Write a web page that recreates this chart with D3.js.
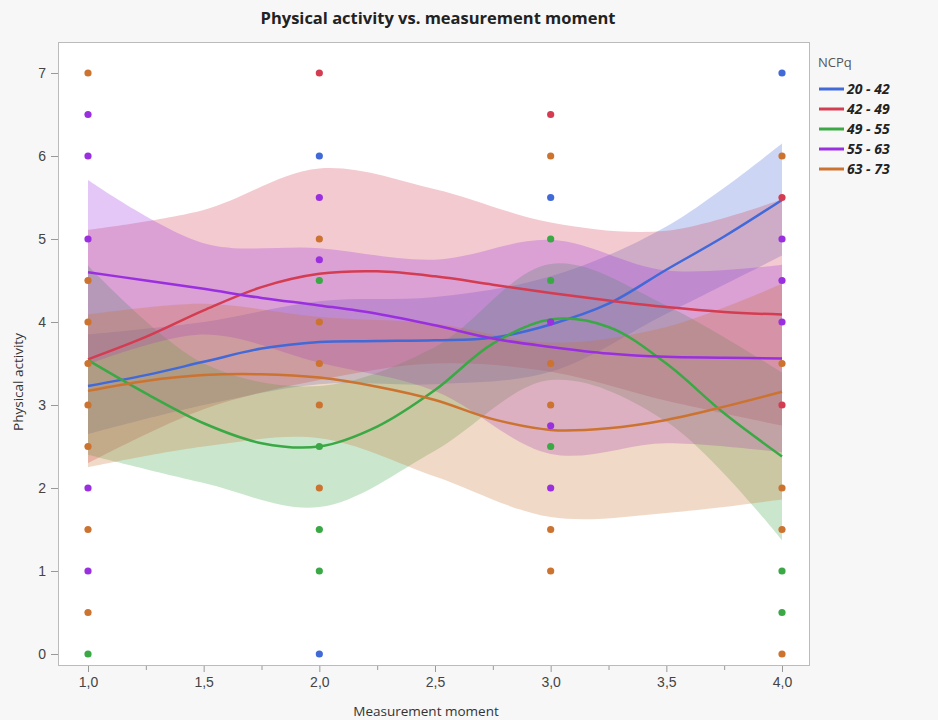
<!DOCTYPE html>
<html>
<head>
<meta charset="utf-8">
<script src="https://cdn.jsdelivr.net/npm/d3@7"></script>
<style>
  html, body { margin: 0; padding: 0; background: #f7f7f7; }
  svg { display: block; font-family: 'Open Sans', 'Noto Sans', sans-serif; }
</style>
</head>
<body>
<div id="chart"></div>
<script>
// Physical activity vs. measurement moment, smoothers with confidence bands per NCPq group
const GROUPS = ['20 - 42', '42 - 49', '49 - 55', '55 - 63', '63 - 73'];
const COLORS = ['#4169d8', '#d43c52', '#3aa845', '#9a2fe0', '#cc7330'];

const X_TICKS = [1, 1.5, 2, 2.5, 3, 3.5, 4];
const X_MINOR = [1.25, 1.75, 2.25, 2.75, 3.25, 3.75];
const Y_TICKS = [0, 1, 2, 3, 4, 5, 6, 7];

// x positions of the smoother line samples and of the band samples
const LINE_X = [1, 1.25, 1.5, 1.75, 2, 2.25, 2.5, 2.75, 3, 3.25, 3.5, 3.75, 4];
const BAND_X = [1, 1.5, 2, 2.5, 3, 3.5, 4];

const LINE_20_42 = [3.23, 3.36, 3.52, 3.68, 3.76, 3.77, 3.78, 3.81, 3.97, 4.22, 4.63, 5.03, 5.47];
const LINE_42_49 = [3.55, 3.82, 4.14, 4.42, 4.58, 4.61, 4.55, 4.45, 4.35, 4.26, 4.18, 4.12, 4.09];
const LINE_49_55 = [3.54, 3.14, 2.78, 2.54, 2.50, 2.74, 3.18, 3.74, 4.03, 3.94, 3.50, 2.90, 2.38];
const LINE_55_63 = [4.60, 4.50, 4.40, 4.29, 4.20, 4.10, 3.96, 3.80, 3.70, 3.62, 3.58, 3.57, 3.56];
const LINE_63_73 = [3.17, 3.29, 3.36, 3.37, 3.33, 3.22, 3.06, 2.83, 2.70, 2.72, 2.82, 2.98, 3.16];

const UPPER_20_42 = [3.85, 4.00, 4.25, 4.30, 4.55, 5.15, 6.15];
const LOWER_20_42 = [2.65, 3.00, 3.25, 3.25, 3.40, 4.10, 4.80];
const UPPER_42_49 = [5.11, 5.35, 5.85, 5.60, 5.20, 5.10, 5.48];
const LOWER_42_49 = [2.30, 2.95, 3.30, 3.50, 3.40, 3.05, 2.75];
const UPPER_49_55 = [4.68, 3.50, 3.23, 3.70, 4.70, 4.20, 3.39];
const LOWER_49_55 = [2.40, 2.06, 1.77, 2.45, 3.30, 2.80, 1.37];
const UPPER_55_63 = [5.71, 4.95, 4.89, 4.75, 4.99, 4.62, 4.69];
const LOWER_55_63 = [3.49, 3.85, 3.51, 3.17, 2.41, 2.54, 2.43];
const UPPER_63_73 = [4.09, 4.22, 4.06, 3.98, 3.75, 3.94, 4.46];
const LOWER_63_73 = [2.25, 2.50, 2.60, 2.14, 1.65, 1.70, 1.86];

// observed points [moment, activity]
const PTS_20_42 = [[2, 6], [2, 0], [3, 5.5], [4, 7]];
const PTS_42_49 = [[2, 7], [3, 6.5], [4, 5.5], [4, 3]];
const PTS_49_55 = [[1, 0], [2, 4.5], [2, 2.5], [2, 1.5], [2, 1], [3, 5], [3, 4.5], [3, 2.5], [4, 1], [4, 0.5]];
const PTS_55_63 = [[1, 6.5], [1, 6], [1, 5], [1, 2], [1, 1], [2, 5.5], [2, 4.75], [3, 4], [3, 2.75], [3, 2],
  [4, 5], [4, 4.5], [4, 4]];
const PTS_63_73 = [[1, 7], [1, 4.5], [1, 4], [1, 3.5], [1, 3], [1, 2.5], [1, 1.5], [1, 0.5], [2, 5], [2, 4],
  [2, 3.5], [2, 3], [2, 2], [3, 6], [3, 3.5], [3, 3], [3, 1.5], [3, 1], [4, 6], [4, 3.5], [4, 2], [4, 1.5], [4, 0]];

const LINES = [LINE_20_42, LINE_42_49, LINE_49_55, LINE_55_63, LINE_63_73];
const UPPERS = [UPPER_20_42, UPPER_42_49, UPPER_49_55, UPPER_55_63, UPPER_63_73];
const LOWERS = [LOWER_20_42, LOWER_42_49, LOWER_49_55, LOWER_55_63, LOWER_63_73];
const POINTS = [PTS_20_42, PTS_42_49, PTS_49_55, PTS_55_63, PTS_63_73];

const WIDTH = 938;
const HEIGHT = 720;
const FRAME = { left: 58, top: 42, right: 810, bottom: 666 };

const fmt = (d) => d3.format('.1f')(d).replace('.', ',');

const svg = d3.select('#chart')
  .append('svg')
  .attr('width', WIDTH)
  .attr('height', HEIGHT);

svg.append('rect')
  .attr('width', WIDTH)
  .attr('height', HEIGHT)
  .attr('fill', '#f7f7f7');

const x = d3.scaleLinear().domain([1, 4]).range([88, 782]);
const y = d3.scaleLinear().domain([0, 7]).range([654, 73]);

// plot frame
svg.append('rect')
  .attr('x', FRAME.left)
  .attr('y', FRAME.top)
  .attr('width', FRAME.right - FRAME.left)
  .attr('height', FRAME.bottom - FRAME.top)
  .attr('fill', '#fff');

svg.append('text')
  .attr('x', 438)
  .attr('y', 24)
  .attr('text-anchor', 'middle')
  .attr('font-size', '16.5px')
  .attr('font-weight', 'bold')
  .attr('fill', '#222')
  .text('Physical activity vs. measurement moment');

// axes
const xAxis = svg.append('g')
  .attr('transform', `translate(0,${FRAME.bottom})`)
  .call(d3.axisBottom(x).tickValues(X_TICKS).tickFormat(fmt).tickSize(6).tickPadding(5));
svg.append('g')
  .attr('transform', `translate(0,${FRAME.bottom})`)
  .call(d3.axisBottom(x).tickValues(X_MINOR).tickFormat('').tickSize(4))
  .call((g) => g.select('.domain').remove())
  .selectAll('line').attr('stroke', '#999');

const yAxis = svg.append('g')
  .attr('transform', `translate(${FRAME.left},0)`)
  .call(d3.axisLeft(y).tickValues(Y_TICKS).tickFormat(d3.format('d')).tickSize(7).tickPadding(5));

for (const ax of [xAxis, yAxis]) {
  ax.select('.domain').remove();
  ax.selectAll('line').attr('stroke', '#999');
  ax.selectAll('text').attr('fill', '#444').attr('font-size', '14px');
}

svg.append('text')
  .attr('x', 426)
  .attr('y', 716)
  .attr('text-anchor', 'middle')
  .attr('font-size', '13.5px')
  .attr('fill', '#333')
  .text('Measurement moment');

svg.append('text')
  .attr('transform', 'translate(23,382) rotate(-90)')
  .attr('text-anchor', 'middle')
  .attr('font-size', '13.5px')
  .attr('fill', '#333')
  .text('Physical activity');

const plot = svg.append('g');

// confidence bands
const area = d3.area()
  .x((d) => x(d.x))
  .y0((d) => y(d.lo))
  .y1((d) => y(d.hi))
  .curve(d3.curveCatmullRom.alpha(0.5));

GROUPS.forEach((grp, i) => {
  const band = BAND_X.map((bx, j) => ({ x: bx, lo: LOWERS[i][j], hi: UPPERS[i][j] }));
  plot.append('path')
    .datum(band)
    .attr('d', area)
    .attr('fill', COLORS[i])
    .attr('fill-opacity', 0.27);
});

// smoother lines
const line = d3.line()
  .x((d) => x(d.x))
  .y((d) => y(d.v))
  .curve(d3.curveCatmullRom.alpha(0.5));

GROUPS.forEach((grp, i) => {
  plot.append('path')
    .datum(LINE_X.map((lx, j) => ({ x: lx, v: LINES[i][j] })))
    .attr('d', line)
    .attr('fill', 'none')
    .attr('stroke', COLORS[i])
    .attr('stroke-width', 2.5);
});

// observations
GROUPS.forEach((grp, i) => {
  plot.selectAll(null)
    .data(POINTS[i])
    .join('circle')
    .attr('cx', (d) => x(d[0]))
    .attr('cy', (d) => y(d[1]))
    .attr('r', 3.6)
    .attr('fill', COLORS[i]);
});

svg.append('rect')
  .attr('x', FRAME.left + 0.5)
  .attr('y', FRAME.top + 0.5)
  .attr('width', FRAME.right - FRAME.left - 1)
  .attr('height', FRAME.bottom - FRAME.top - 1)
  .attr('fill', 'none')
  .attr('stroke', '#bbb');

// legend
const legend = svg.append('g').attr('transform', 'translate(818,0)');
legend.append('text')
  .attr('x', 0)
  .attr('y', 67)
  .attr('font-size', '13px')
  .attr('fill', '#555')
  .text('NCPq');

const items = legend.selectAll('.item')
  .data(GROUPS)
  .join('g')
  .attr('class', 'item')
  .attr('transform', (_, i) => `translate(0,${89 + i * 20})`);

items.append('line')
  .attr('x1', 1)
  .attr('x2', 26)
  .attr('stroke', (_, i) => COLORS[i])
  .attr('stroke-width', 3);

items.append('text')
  .attr('x', 29)
  .attr('dy', '0.36em')
  .attr('font-size', '14px')
  .attr('font-weight', 'bold')
  .attr('font-style', 'italic')
  .attr('fill', '#222')
  .text((d) => d);
</script>
</body>
</html>
